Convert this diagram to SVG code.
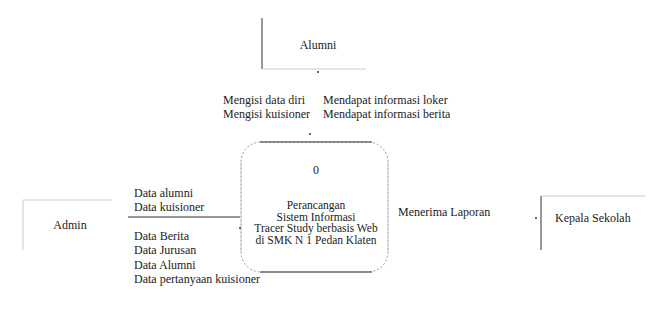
<svg xmlns="http://www.w3.org/2000/svg" width="649" height="329" viewBox="0 0 649 329">
<style>
.t{font-family:'Liberation Serif','DejaVu Serif',serif;font-size:12px;fill:#222}
.p{font-size:11.5px}
.c{text-anchor:middle}
.ln{stroke:#333;stroke-width:1;fill:none}
.fl{stroke:#ccc;stroke-width:1;fill:none}
.dash{stroke:#999;stroke-width:1;fill:none;stroke-dasharray:2 2}
.dot{fill:#333}
</style>
<rect width="649" height="329" fill="#fff"/>
<g id="alumni">
<line class="ln" x1="262" y1="18" x2="262" y2="69"/>
<line class="fl" x1="262" y1="69" x2="366" y2="69"/>
<text class="t c" x="318" y="49" font-family="Liberation Serif, serif">Alumni</text>
</g>
<g id="admin">
<line class="fl" x1="23" y1="200" x2="23" y2="250"/>
<line class="fl" x1="23" y1="200" x2="112" y2="200"/>
<text class="t c" x="70" y="229" font-family="Liberation Serif, serif">Admin</text>
</g>
<g id="kepala">
<line class="ln" x1="541" y1="196" x2="541" y2="250"/>
<line class="fl" x1="541" y1="196" x2="645" y2="196"/>
<text class="t" x="555" y="222" font-family="Liberation Serif, serif">Kepala Sekolah</text>
</g>
<g id="process" font-family="Liberation Serif, serif">
<rect class="dash" x="241" y="142" width="147" height="130" rx="20"/>
<line class="fl" x1="241" y1="162" x2="241" y2="252"/>
<line class="fl" x1="388" y1="162" x2="388" y2="252"/>
<line class="ln" x1="260" y1="142" x2="372" y2="142"/>
<line class="ln" x1="260" y1="272" x2="372" y2="272" stroke="#555"/>
<text class="t c" x="316" y="174">0</text>
<text class="t p c" x="316" y="209">Perancangan</text>
<text class="t p c" x="316" y="220.5">Sistem Informasi</text>
<text class="t p c" x="316" y="232">Tracer Study berbasis Web</text>
<text class="t p c" x="316" y="243.5">di SMK N 1 Pedan Klaten</text>
</g>
<g id="connectors" font-family="Liberation Serif, serif">
<circle class="dot" cx="318" cy="72" r="1"/>
<circle class="dot" cx="310" cy="134" r="1"/>
<line class="ln" x1="128" y1="217" x2="240" y2="217"/>
<circle class="dot" cx="240" cy="228" r="1"/>
<circle class="dot" cx="536" cy="218" r="1"/>
<text class="t" x="223" y="104">Mengisi data diri</text>
<text class="t" x="223" y="118">Mengisi kuisioner</text>
<text class="t" x="323" y="104">Mendapat informasi loker</text>
<text class="t" x="323" y="118">Mendapat informasi berita</text>
<text class="t" x="134" y="197">Data alumni</text>
<text class="t" x="134" y="211">Data kuisioner</text>
<text class="t" x="134" y="240">Data Berita</text>
<text class="t" x="134" y="254">Data Jurusan</text>
<text class="t" x="134" y="269">Data Alumni</text>
<text class="t" x="134" y="283">Data pertanyaan kuisioner</text>
<text class="t" x="398" y="216">Menerima Laporan</text>
</g>
</svg>
